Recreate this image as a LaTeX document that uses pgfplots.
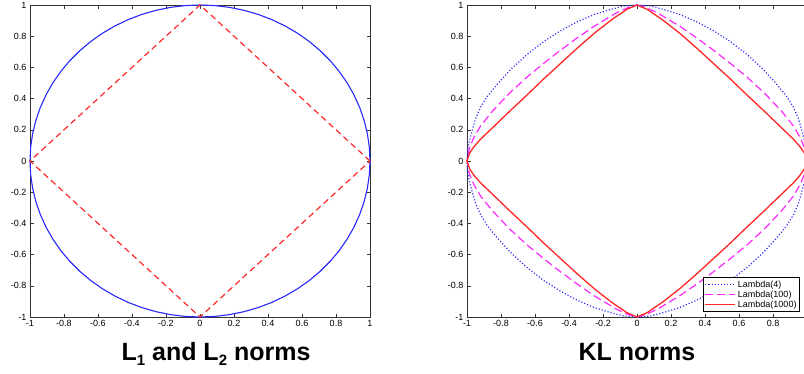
\documentclass[border=0pt]{standalone}
\usepackage{fontspec}
\setmainfont{Liberation Sans}
\usepackage{pgfplots}
\pgfplotsset{compat=1.18}
\definecolor{mblue}{RGB}{40,40,255}
\definecolor{mred}{RGB}{255,40,40}
\definecolor{mmag}{RGB}{255,40,255}
\pgfplotsset{
  matax/.style={
    scale only axis, width=340pt, height=312pt,
    xmin=-1, xmax=1, ymin=-1, ymax=1,
    xtick={-1,-0.8,-0.6,-0.4,-0.2,0,0.2,0.4,0.6,0.8,1},
    ytick={-1,-0.8,-0.6,-0.4,-0.2,0,0.2,0.4,0.6,0.8,1},
    xtick pos=both, ytick pos=both, ticklabel pos=left,
    tick align=inside, major tick length=3.5pt,
    tick style={black!80, line width=0.6pt},
    axis line style={black!80, line width=0.8pt},
    clip=false,
    tick label style={font=\fontsize{9}{10}\selectfont},
    /pgf/number format/.cd, fixed, precision=1, assume math mode=true,
  }
}
\begin{document}
\begin{tikzpicture}
\useasboundingbox (0,0) rectangle (804pt,373pt);
\clip (0,0) rectangle (804pt,373pt);
\fill[white] (0,0) rectangle (804pt,373pt);
% Left panel
\begin{axis}[matax, at={(30pt,56pt)}, anchor=south west]
\addplot[mblue, line width=1.1pt] coordinates {
(1,0) (0.9962,0.0872) (0.9848,0.1736) (0.9659,0.2588) (0.9397,0.3420) (0.9063,0.4226) (0.8660,0.5) (0.8192,0.5736) (0.7660,0.6428) (0.7071,0.7071) (0.6428,0.7660) (0.5736,0.8192) (0.5,0.8660) (0.4226,0.9063) (0.3420,0.9397) (0.2588,0.9659) (0.1736,0.9848) (0.0872,0.9962) (0,1)
(-0.0872,0.9962) (-0.1736,0.9848) (-0.2588,0.9659) (-0.3420,0.9397) (-0.4226,0.9063) (-0.5,0.8660) (-0.5736,0.8192) (-0.6428,0.7660) (-0.7071,0.7071) (-0.7660,0.6428) (-0.8192,0.5736) (-0.8660,0.5) (-0.9063,0.4226) (-0.9397,0.3420) (-0.9659,0.2588) (-0.9848,0.1736) (-0.9962,0.0872) (-1,0)
(-0.9962,-0.0872) (-0.9848,-0.1736) (-0.9659,-0.2588) (-0.9397,-0.3420) (-0.9063,-0.4226) (-0.8660,-0.5) (-0.8192,-0.5736) (-0.7660,-0.6428) (-0.7071,-0.7071) (-0.6428,-0.7660) (-0.5736,-0.8192) (-0.5,-0.8660) (-0.4226,-0.9063) (-0.3420,-0.9397) (-0.2588,-0.9659) (-0.1736,-0.9848) (-0.0872,-0.9962) (0,-1)
(0.0872,-0.9962) (0.1736,-0.9848) (0.2588,-0.9659) (0.3420,-0.9397) (0.4226,-0.9063) (0.5,-0.8660) (0.5736,-0.8192) (0.6428,-0.7660) (0.7071,-0.7071) (0.7660,-0.6428) (0.8192,-0.5736) (0.8660,-0.5) (0.9063,-0.4226) (0.9397,-0.3420) (0.9659,-0.2588) (0.9848,-0.1736) (0.9962,-0.0872) (1,0)
};
\addplot[mred, line width=1.2pt, dash pattern=on 6pt off 4pt] coordinates {
(1,0) (0,1) (-1,0) (0,-1) (1,0)
};
\end{axis}
% Right panel
\begin{axis}[matax, at={(467pt,56pt)}, anchor=south west,
  xticklabels={-1,-0.8,-0.6,-0.4,-0.2,0,0.2,0.4,0.6,0.8,{}},
  legend style={at={(0.979,0.016)}, anchor=south east, draw=black, line width=0.7pt, fill=white,
    font=\fontsize{9}{10}\selectfont, inner sep=1pt, row sep=-2pt, cells={anchor=west}},
  legend image code/.code={\draw[#1] (0pt,0pt) -- (30pt,0pt);}]
\addplot[mblue, line width=1.2pt, dash pattern=on 1.1pt off 2pt] coordinates {
(0,1) (0.08,0.993) (0.155,0.972) (0.25,0.94) (0.35,0.893) (0.45,0.835) (0.55,0.765) (0.65,0.68) (0.74,0.59) (0.82,0.495) (0.88,0.415) (0.92,0.345) (0.95,0.27) (0.97,0.195) (0.99,0.11) (0.998,0.05) (1,0)
(0.998,-0.05) (0.99,-0.11) (0.97,-0.195) (0.95,-0.27) (0.92,-0.345) (0.88,-0.415) (0.82,-0.495) (0.74,-0.59) (0.65,-0.68) (0.55,-0.765) (0.45,-0.835) (0.35,-0.893) (0.25,-0.94) (0.155,-0.972) (0.08,-0.993) (0,-1)
(-0.08,-0.993) (-0.155,-0.972) (-0.25,-0.94) (-0.35,-0.893) (-0.45,-0.835) (-0.55,-0.765) (-0.65,-0.68) (-0.74,-0.59) (-0.82,-0.495) (-0.88,-0.415) (-0.92,-0.345) (-0.95,-0.27) (-0.97,-0.195) (-0.99,-0.11) (-0.998,-0.05) (-1,0)
(-0.998,0.05) (-0.99,0.11) (-0.97,0.195) (-0.95,0.27) (-0.92,0.345) (-0.88,0.415) (-0.82,0.495) (-0.74,0.59) (-0.65,0.68) (-0.55,0.765) (-0.45,0.835) (-0.35,0.893) (-0.25,0.94) (-0.155,0.972) (-0.08,0.993) (0,1)
};
\addlegendentry{Lambda(4)}
\addplot[mmag, line width=1.2pt, dash pattern=on 8pt off 4pt] coordinates {
(0,1) (0.05,0.985) (0.12,0.95) (0.25,0.865) (0.35,0.79) (0.45,0.71) (0.55,0.625) (0.65,0.535) (0.75,0.435) (0.85,0.32) (0.92,0.225) (0.96,0.15) (0.985,0.085) (1,0)
(0.985,-0.085) (0.96,-0.15) (0.92,-0.225) (0.85,-0.32) (0.75,-0.435) (0.65,-0.535) (0.55,-0.625) (0.45,-0.71) (0.35,-0.79) (0.25,-0.865) (0.12,-0.95) (0.05,-0.985) (0,-1)
(-0.05,-0.985) (-0.12,-0.95) (-0.25,-0.865) (-0.35,-0.79) (-0.45,-0.71) (-0.55,-0.625) (-0.65,-0.535) (-0.75,-0.435) (-0.85,-0.32) (-0.92,-0.225) (-0.96,-0.15) (-0.985,-0.085) (-1,0)
(-0.985,0.085) (-0.96,0.15) (-0.92,0.225) (-0.85,0.32) (-0.75,0.435) (-0.65,0.535) (-0.55,0.625) (-0.45,0.71) (-0.35,0.79) (-0.25,0.865) (-0.12,0.95) (-0.05,0.985) (0,1)
};
\addlegendentry{Lambda(100)}
\addplot[mred, line width=1.3pt] coordinates {
(0,1) (0.06,0.972) (0.15,0.905) (0.25,0.82) (0.35,0.725) (0.45,0.625) (0.55,0.525) (0.65,0.42) (0.75,0.318) (0.85,0.213) (0.92,0.14) (0.96,0.09) (0.985,0.05) (1,0)
(0.985,-0.05) (0.96,-0.09) (0.92,-0.14) (0.85,-0.213) (0.75,-0.318) (0.65,-0.42) (0.55,-0.525) (0.45,-0.625) (0.35,-0.725) (0.25,-0.82) (0.15,-0.905) (0.06,-0.972) (0,-1)
(-0.06,-0.972) (-0.15,-0.905) (-0.25,-0.82) (-0.35,-0.725) (-0.45,-0.625) (-0.55,-0.525) (-0.65,-0.42) (-0.75,-0.318) (-0.85,-0.213) (-0.92,-0.14) (-0.96,-0.09) (-0.985,-0.05) (-1,0)
(-0.985,0.05) (-0.96,0.09) (-0.92,0.14) (-0.85,0.213) (-0.75,0.318) (-0.65,0.42) (-0.55,0.525) (-0.45,0.625) (-0.35,0.725) (-0.25,0.82) (-0.15,0.905) (-0.06,0.972) (0,1)
};
\addlegendentry{Lambda(1000)}
\end{axis}
% Titles
\node[anchor=base, font=\fontsize{25}{28}\selectfont\bfseries, inner sep=0pt] at (216pt,13pt)
  {L\raisebox{-5pt}{\fontsize{15}{15}\selectfont 1} and L\raisebox{-5pt}{\fontsize{15}{15}\selectfont 2} norms};
\node[anchor=base, font=\fontsize{25}{28}\selectfont\bfseries, inner sep=0pt] at (637pt,13pt) {KL norms};
\end{tikzpicture}
\end{document}
